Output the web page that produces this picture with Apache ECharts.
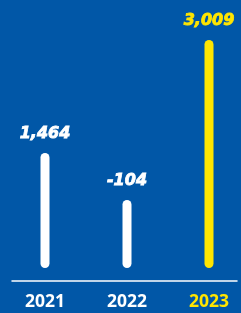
<!DOCTYPE html>
<html>
<head>
<meta charset="utf-8">
<script src="https://cdn.jsdelivr.net/npm/echarts@6/dist/echarts.min.js"></script>
<style>
html, body { margin: 0; padding: 0; background: #0157a7; }
#main { width: 241px; height: 313px; }
</style>
</head>
<body>
<div id="main"></div>
<script>
var years = ['2021', '2022', '2023'];
// values shown in the labels
var values = [1464, -104, 3009];
// bar lengths as drawn in the picture
var barLengths = [1518, 898, 3009];
var barColors = ['#ffffff', '#ffffff', '#ffe500'];

var main = echarts.init(document.getElementById('main'));

var data = [];
for (var i = 0; i < years.length; i++) {
	data.push({
		value: barLengths[i],
		itemStyle: { color: barColors[i] },
		label: { color: barColors[i], textBorderColor: barColors[i] }
	});
}

var option = {
	backgroundColor: '#0157a7',
	animation: false,
	grid: [
		{ left: 45, right: 32, top: 40, bottom: 32 },
		{ left: 12, right: 4, top: 40, bottom: 32 }
	],
	xAxis: [{
		type: 'category',
		gridIndex: 0,
		data: years,
		boundaryGap: false,
		axisLine: { show: false },
		axisTick: { show: false },
		axisLabel: {
			margin: 12,
			fontFamily: 'Open Sans',
			fontWeight: 'bold',
			fontSize: 17.5,
			color: function (v, idx) {
				return barColors[years.indexOf(v)];
			}
		}
	}, {
		type: 'category',
		gridIndex: 1,
		data: years,
		axisLine: { onZero: false, lineStyle: { color: '#ffffff', width: 1.5 } },
		axisTick: { show: false },
		axisLabel: { show: false }
	}],
	yAxis: [{
		type: 'value',
		gridIndex: 0,
		min: -172,
		max: 3009,
		show: false
	}, {
		type: 'value',
		gridIndex: 1,
		min: 0,
		max: 1,
		show: false
	}],
	series: [{
		type: 'bar',
		xAxisIndex: 0,
		yAxisIndex: 0,
		barWidth: 9,
		data: data,
		itemStyle: { borderRadius: 4.5 },
		label: {
			show: true,
			position: 'top',
			distance: 11,
			fontFamily: 'DejaVu Sans',
			fontWeight: 'bold',
			fontStyle: 'italic',
			fontSize: 16,
			textBorderWidth: 0.8,
			formatter: function (p) {
				return values[p.dataIndex].toLocaleString('en-US');
			}
		}
	}]
};
main.setOption(option);
</script>
</body>
</html>
